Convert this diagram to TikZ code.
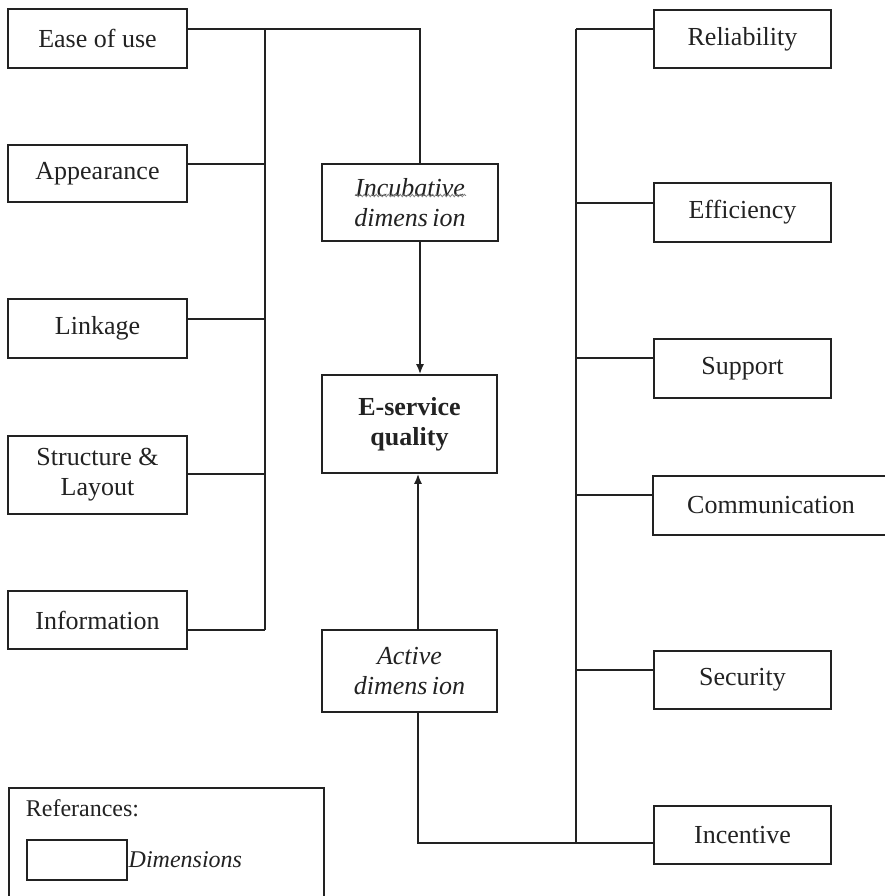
\documentclass[tikz,border=0pt]{standalone}
\usepackage{fontspec}
\setmainfont{Liberation Serif}
\usetikzlibrary{arrows.meta,calc,decorations.pathmorphing}
\definecolor{ink}{HTML}{222222}
\begin{document}
\begin{tikzpicture}[x=1pt,y=-1pt,
  line width=1.7pt, draw=ink, text=ink,
  box/.style={draw=ink, line width=1.7pt, rectangle, inner sep=0pt, align=center,
    font=\fontsize{26}{30}\selectfont},
  lbox/.style={box, minimum width=179pt},
  rbox/.style={box, minimum width=177pt},
  cbox/.style={box, minimum width=176pt},
  conn/.style={draw=ink, line width=1.7pt},
  arr/.style={conn, -{Latex[length=10pt,width=8pt]}},
  lbl/.style={inner sep=0pt, anchor=west, font=\fontsize{24}{28}\selectfont}
]
\useasboundingbox (0,0) rectangle (885,896);
\clip (0,0) rectangle (885,896);
\fill[white] (0,0) rectangle (885,896);

% left boxes
\node[lbox, minimum height=59pt] (ease) at (97.5,38.5) {Ease of use};
\node[lbox, minimum height=57pt] (appear) at (97.5,173.5) {Appearance};
\node[lbox, minimum height=59pt] (link) at (97.5,328.5) {Linkage};
\node[lbox, minimum height=78pt] (struct) at (97.5,475) {Structure \&\\Layout};
\node[lbox, minimum height=58pt] (info) at (97.5,620) {Information};

% centre boxes
\node[cbox, minimum height=77pt] (incub) at (410,202.5) {\itshape Incubative\\\itshape dimens\,ion};
\node[cbox, minimum width=175pt, minimum height=98pt] (eserv) at (409.5,424) {\bfseries E-service\\\bfseries quality};
\node[cbox, minimum width=175pt, minimum height=82pt] (active) at (409.5,671) {\itshape Active\\\itshape dimens\,ion};

% right boxes
\node[rbox, minimum height=58pt] (rel) at (742.5,39) {Reliability};
\node[rbox, minimum height=59pt] (eff) at (742.5,212.5) {Efficiency};
\node[rbox, minimum height=59pt] (supp) at (742.5,368.5) {Support};
\node[box, minimum width=236pt, minimum height=59pt] (comm) at (771,505.5) {Communication};
\node[rbox, minimum height=58pt] (sec) at (742.5,680) {Security};
\node[rbox, minimum height=58pt] (inc) at (742.5,835) {Incentive};

% bus coordinates
\coordinate (L1) at (265,29);
\coordinate (L2) at (265,164);
\coordinate (L3) at (265,319);
\coordinate (L4) at (265,474);
\coordinate (L5) at (265,630);
\coordinate (T) at (420,29);
\coordinate (A) at (418,843);
\coordinate (R1) at (576,29);
\coordinate (R2) at (576,203);
\coordinate (R3) at (576,358);
\coordinate (R4) at (576,495);
\coordinate (R5) at (576,670);
\coordinate (R6) at (576,843);

% left bus
\draw[conn] (L1) -- (L5);
\draw[conn] (L1 -| ease.east) -- (T) -- (T |- incub.north);
\draw[conn] (L2 -| appear.east) -- (L2);
\draw[conn] (L3 -| link.east) -- (L3);
\draw[conn] (L4 -| struct.east) -- (L4);
\draw[conn] (L5 -| info.east) -- (L5);

% arrows to centre
\draw[arr] (T |- incub.south) -- (T |- eserv.north);
\draw[arr] (A |- active.north) -- (A |- eserv.south);
\draw[conn] (A |- active.south) -- (A) -- (R6) -- (R6 -| inc.west);

% right bus
\draw[conn] (R1) -- (R6);
\draw[conn] (R1) -- (R1 -| rel.west);
\draw[conn] (R2) -- (R2 -| eff.west);
\draw[conn] (R3) -- (R3 -| supp.west);
\draw[conn] (R4) -- (R4 -| comm.west);
\draw[conn] (R5) -- (R5 -| sec.west);

% spell-check squiggle under "Incubative"
\draw[gray, line width=0.8pt, decorate, decoration={snake, amplitude=1.2pt, segment length=4pt}]
  ($(incub.center)+(-55,-7)$) -- ($(incub.center)+(56,-7)$);

% legend
\node[draw=ink, line width=1.7pt, rectangle, inner sep=0pt, minimum width=315pt, minimum height=130pt, anchor=north west] (legend) at (8,787) {};
\node[lbl] (refs) at (25,808) {Referances:};
\node[draw=ink, line width=1.7pt, rectangle, inner sep=0pt, minimum width=100pt, minimum height=40pt] (legbox) at (77,860) {};
\node[lbl, anchor=west] (dims) at (legbox.east) {\itshape Dimensions};
\end{tikzpicture}
\end{document}
